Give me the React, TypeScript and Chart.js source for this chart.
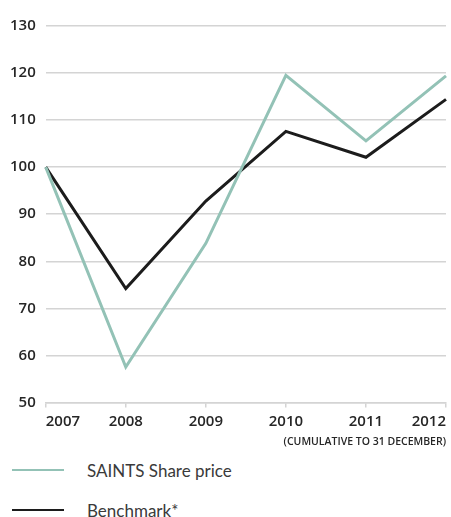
import React, { useEffect, useRef } from "react";
import { Chart, registerables } from "chart.js";

Chart.register(...registerables);

const years = ["2007", "2008", "2009", "2010", "2011", "2012"];
const saintsShare = [100, 57.5, 83.8, 119.5, 105.6, 119.4];
const benchmark = [100, 74.2, 92.8, 107.6, 102.1, 114.4];
const yTicks = [50, 60, 70, 80, 90, 100, 110, 120, 130];
const caption = "(CUMULATIVE TO 31 DECEMBER)";
const legendLabels = ["SAINTS Share price", "Benchmark*"];

const TEAL = "#93c2b6";
const DARK = "#1c1c1c";
const GRID = "#d4d4d4";
const TEXT = "#262626";

export default function App() {
  const ref = useRef<HTMLCanvasElement | null>(null);

  useEffect(() => {
    if (!ref.current) return;
    const chart = new Chart(ref.current, {
      type: "line",
      data: {
        labels: years,
        datasets: [
          {
            label: legendLabels[0],
            data: saintsShare,
            borderColor: TEAL,
            borderWidth: 3,
            pointRadius: 0,
            tension: 0,
          },
          {
            label: legendLabels[1],
            data: benchmark,
            borderColor: DARK,
            borderWidth: 3,
            pointRadius: 0,
            tension: 0,
          },
        ],
      },
      options: {
        responsive: false,
        animation: false,
        layout: { padding: { left: 0, right: 4, top: 26, bottom: 2 } },
        plugins: {
          legend: { display: false },
          tooltip: { enabled: false },
        },
        scales: {
          x: {
            ticks: {
              align: "inner",
              color: TEXT,
              font: { family: "Open Sans", size: 15, weight: "600" },
              padding: 5,
              maxRotation: 0,
            },
            grid: {
              drawOnChartArea: false,
              drawTicks: true,
              tickLength: 5,
              color: GRID,
              lineWidth: 1.5,
            },
            border: { display: true, color: GRID, width: 1.5 },
            title: {
              display: true,
              text: caption,
              align: "end",
              color: TEXT,
              font: { family: "Open Sans", size: 10.5, weight: "600" },
              padding: { top: 0, bottom: 0 },
            },
          },
          y: {
            min: 50,
            max: 130,
            afterBuildTicks: (axis: any) => {
              axis.ticks = yTicks.map((v) => ({ value: v }));
            },
            ticks: {
              color: TEXT,
              font: { family: "Open Sans", size: 15, weight: "600" },
              padding: 10,
            },
            grid: {
              color: GRID,
              lineWidth: 1.5,
              drawTicks: false,
            },
            border: { display: false },
          },
        },
      },
    });
    return () => chart.destroy();
  }, []);

  const legendItem = (label: string, color: string) => (
    <div style={{ display: "flex", alignItems: "center", height: 40 }}>
      <div style={{ width: 52, height: 2, background: color, marginLeft: 12, marginRight: 23 }} />
      <span style={{ fontFamily: "Lato, 'Open Sans', sans-serif", fontSize: 17, color: "#3a3a3a" }}>{label}</span>
    </div>
  );

  return (
    <div style={{ position: "absolute", left: 0, top: 0, width: 451 }}>
      <canvas ref={ref} width={451} height={450} style={{ display: "block" }} />
      <div style={{ marginTop: 0 }}>
        {legendItem(legendLabels[0], TEAL)}
        {legendItem(legendLabels[1], DARK)}
      </div>
    </div>
  );
}
